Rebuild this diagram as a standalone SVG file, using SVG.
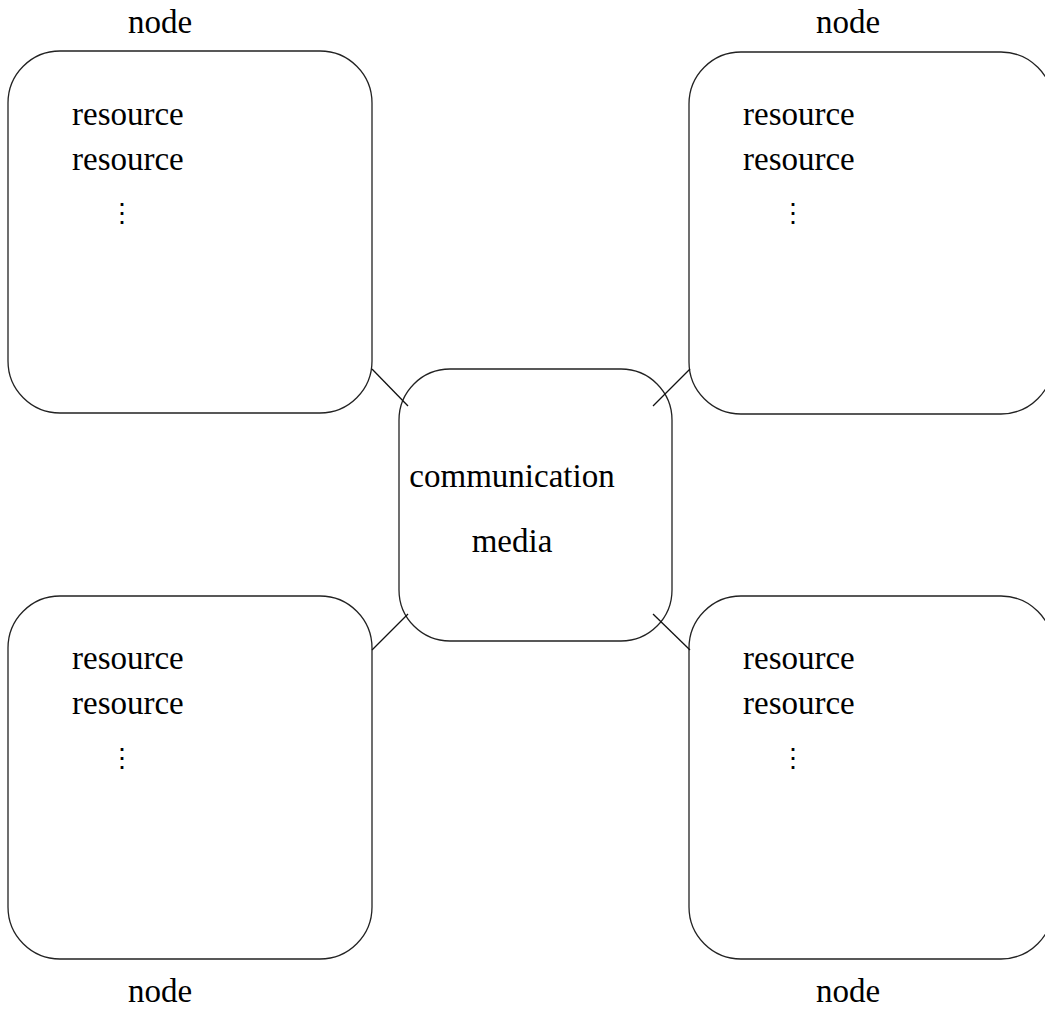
<svg xmlns="http://www.w3.org/2000/svg" width="1045" height="1010" viewBox="0 0 1045 1010">
<style>
.box{fill:none;stroke:#222;stroke-width:1.3}
.t{font-family:'Liberation Serif','Times New Roman',Tinos,'DejaVu Serif',serif;font-size:33px;fill:#000}
.c{text-anchor:middle}
.dots{font-family:'DejaVu Serif',serif;font-size:26px;fill:#000;text-anchor:middle}
.conn line{stroke:#111;stroke-width:1.3}
</style>
<rect width="1045" height="1010" fill="#fff"/>
<g id="node-tl">
<rect class="box" x="8" y="51" width="364" height="362" rx="52" ry="52"/>
<text class="t c" x="160" y="33">node</text>
<text class="t" x="72" y="125">resource</text>
<text class="t" x="72" y="170">resource</text>
<text class="dots" x="122" y="222">⋮</text>
</g>
<g id="node-tr">
<rect class="box" x="689" y="52" width="364" height="362" rx="52" ry="52"/>
<text class="t c" x="848" y="33">node</text>
<text class="t" x="743" y="125">resource</text>
<text class="t" x="743" y="170">resource</text>
<text class="dots" x="793" y="222">⋮</text>
</g>
<g id="node-bl">
<rect class="box" x="8" y="596" width="364" height="363" rx="52" ry="52"/>
<text class="t c" x="160" y="1002">node</text>
<text class="t" x="72" y="669">resource</text>
<text class="t" x="72" y="714">resource</text>
<text class="dots" x="122" y="767">⋮</text>
</g>
<g id="node-br">
<rect class="box" x="689" y="596" width="364" height="363" rx="52" ry="52"/>
<text class="t c" x="848" y="1002">node</text>
<text class="t" x="743" y="669">resource</text>
<text class="t" x="743" y="714">resource</text>
<text class="dots" x="793" y="767">⋮</text>
</g>
<g id="media">
<rect class="box" x="399" y="369" width="273" height="272" rx="51" ry="51"/>
<text class="t c" x="512" y="487">communication</text>
<text class="t c" x="512" y="552">media</text>
</g>
<g id="connectors" class="conn">
<line x1="372" y1="369" x2="408" y2="406"/>
<line x1="690" y1="369" x2="653" y2="406"/>
<line x1="372" y1="650" x2="408" y2="614"/>
<line x1="653" y1="614" x2="690" y2="650"/>
</g>
</svg>
